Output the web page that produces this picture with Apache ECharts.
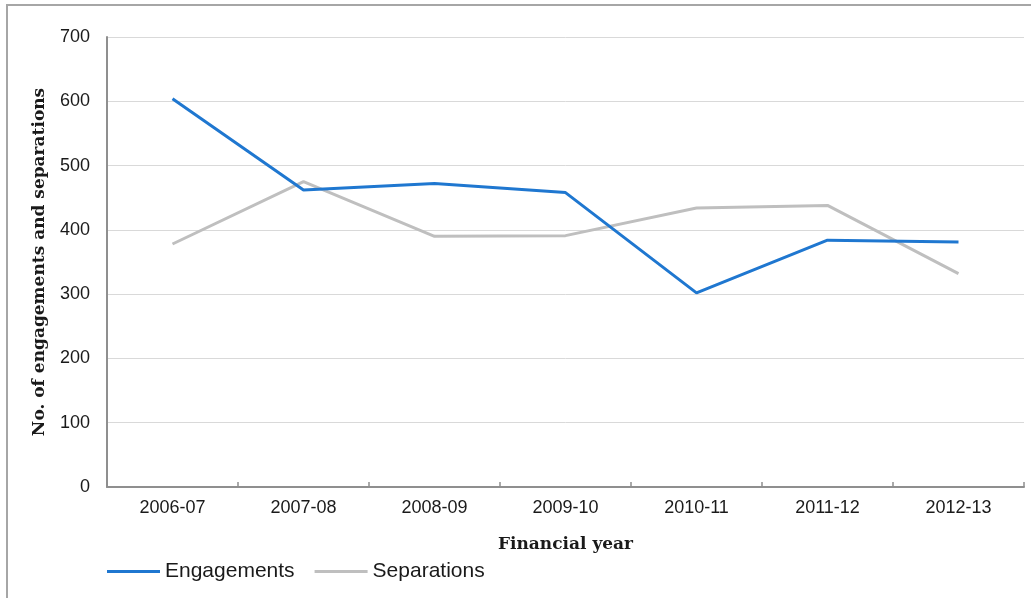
<!DOCTYPE html>
<html>
<head>
<meta charset="utf-8">
<script src="https://cdn.jsdelivr.net/npm/echarts@6/dist/echarts.min.js"></script>
<style>
html,body{margin:0;padding:0;background:#fff;}
#chart{width:1031px;height:598px;}
</style>
</head>
<body>
<div id="chart"></div>
<script>
const categories = ['2006-07','2007-08','2008-09','2009-10','2010-11','2011-12','2012-13'];
const engagements = [604, 462, 472, 458, 302, 384, 381];
const separations = [378, 475, 390, 391, 434, 438, 332];
const yTicks = {min: 0, max: 700, interval: 100};

const chart = echarts.init(document.getElementById('chart'), null, {renderer: 'canvas'});
chart.setOption({
  backgroundColor: '#ffffff',
  animation: false,
  graphic: [{
    type: 'rect',
    shape: {x: 7, y: 5, width: 1200, height: 800},
    style: {fill: 'none', stroke: '#a6a6a6', lineWidth: 2},
    silent: true, z: -1
  }],
  grid: {left: 107, right: 7, top: 37, bottom: 111, containLabel: false},
  legend: {
    left: 102, top: 556,
    itemWidth: 53, itemHeight: 3, itemGap: 20,
    icon: 'rect',
    textStyle: {fontFamily: 'Liberation Sans', fontSize: 21, color: '#1a1a1a'},
    data: ['Engagements', 'Separations']
  },
  xAxis: {
    type: 'category',
    data: categories,
    boundaryGap: true,
    name: 'Financial year',
    nameLocation: 'middle',
    nameGap: 49,
    nameTextStyle: {fontFamily: 'DejaVu Serif', fontWeight: 'bold', fontSize: 17, color: '#1a1a1a'},
    axisLine: {lineStyle: {color: '#8f8f8f', width: 2}},
    axisTick: {show: true, inside: true, length: 5, lineStyle: {color: '#8f8f8f', width: 1.5}},
    axisLabel: {fontFamily: 'Liberation Sans', fontSize: 18, color: '#1a1a1a', margin: 12}
  },
  yAxis: {
    type: 'value',
    min: yTicks.min, max: yTicks.max, interval: yTicks.interval,
    name: 'No. of engagements and separations',
    nameLocation: 'middle',
    nameGap: 59,
    nameRotate: 90,
    nameTextStyle: {fontFamily: 'DejaVu Serif', fontWeight: 'bold', fontSize: 17, color: '#1a1a1a'},
    axisLine: {show: true, lineStyle: {color: '#8f8f8f', width: 2}},
    axisTick: {show: false},
    axisLabel: {fontFamily: 'Liberation Sans', fontSize: 18, color: '#1a1a1a', margin: 17},
    splitLine: {lineStyle: {color: '#d9d9d9', width: 1}}
  },
  series: [
    {
      name: 'Engagements', type: 'line', data: engagements,
      symbol: 'none', lineStyle: {color: '#1f77d0', width: 3},
      itemStyle: {color: '#1f77d0'}, z: 3
    },
    {
      name: 'Separations', type: 'line', data: separations,
      symbol: 'none', lineStyle: {color: '#bfbfbf', width: 3},
      itemStyle: {color: '#bfbfbf'}, z: 2
    }
  ]
});
</script>
</body>
</html>
